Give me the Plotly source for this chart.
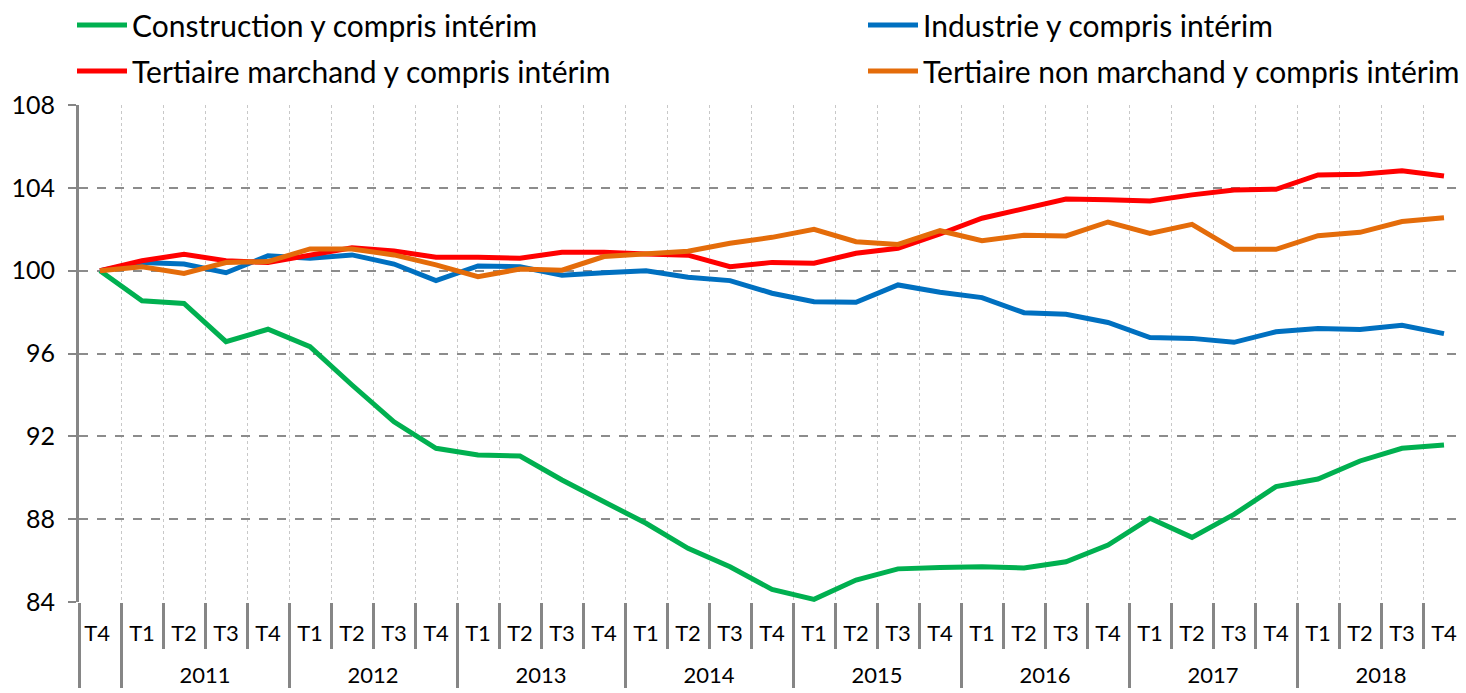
import plotly.graph_objects as go

years = ["", "2011", "2011", "2011", "2011", "2012", "2012", "2012", "2012",
         "2013", "2013", "2013", "2013", "2014", "2014", "2014", "2014",
         "2015", "2015", "2015", "2015", "2016", "2016", "2016", "2016",
         "2017", "2017", "2017", "2017", "2018", "2018", "2018", "2018"]
quarters = ["T4 "] + ["T1", "T2", "T3", "T4"] * 8

construction = [100, 98.55, 98.42, 96.57, 97.17, 96.33, 94.48, 92.7, 91.42, 91.1, 91.05,
                89.89, 88.84, 87.8, 86.59, 85.7, 84.61, 84.13, 85.06, 85.6, 85.67,
                85.7, 85.64, 85.94, 86.75, 88.04, 87.12, 88.23, 89.57, 89.94, 90.81, 91.42, 91.58]
industrie = [100, 100.39, 100.32, 99.9, 100.72, 100.6, 100.76, 100.32, 99.52, 100.23, 100.19,
             99.78, 99.9, 99.99, 99.68, 99.52, 98.91, 98.5, 98.47, 99.31, 98.96,
             98.7, 97.97, 97.89, 97.5, 96.77, 96.73, 96.54, 97.05, 97.21, 97.16, 97.36, 96.96]
tert_marchand = [100, 100.48, 100.79, 100.48, 100.39, 100.72, 101.11, 100.95, 100.65, 100.65, 100.6,
                 100.89, 100.89, 100.8, 100.75, 100.19, 100.4, 100.36, 100.84, 101.08, 101.77,
                 102.53, 103.01, 103.46, 103.43, 103.37, 103.66, 103.9, 103.93, 104.62, 104.66, 104.83, 104.57]
tert_non_marchand = [100, 100.19, 99.87, 100.39, 100.44, 101.05, 101.05, 100.76, 100.28, 99.71, 100.08,
                     100.02, 100.68, 100.84, 100.94, 101.32, 101.61, 102.0, 101.4, 101.27, 101.93,
                     101.45, 101.71, 101.68, 102.35, 101.8, 102.24, 101.03, 101.03, 101.69, 101.85, 102.37, 102.55]

series = [
    ("Construction y compris intérim", construction, "#00B050", "legend"),
    ("Industrie y compris intérim", industrie, "#0070C0", "legend2"),
    ("Tertiaire marchand y compris intérim", tert_marchand, "#FF0000", "legend3"),
    ("Tertiaire non marchand y compris intérim", tert_non_marchand, "#E46C0A", "legend4"),
]

# year labels sit one line lower than the quarter labels
year_labels = [("<br>" + y) if y else y for y in years]

FONT = "Lato"
GRAY = "#868686"
fig = go.Figure()
for name, vals, color, leg in series:
    fig.add_trace(go.Scatter(x=[year_labels, quarters], y=vals, name=name, mode="lines",
                             line=dict(color=color, width=5), legend=leg, showlegend=True))

# page body has an 8px default margin: figure is sized so the page matches 1466x693
W, H = 1458, 685
Y_MIN, Y_MAX, BASE = 84, 108, 100
n = len(quarters)
leg_common = dict(orientation="h", xref="container", yref="container", xanchor="left", yanchor="middle",
                  font=dict(family=FONT, size=30, color="#000000"),
                  bgcolor="rgba(0,0,0,0)", itemwidth=50)
fig.update_layout(
    width=W, height=H,
    showlegend=True,
    margin=dict(l=71, r=1, t=97, b=91, autoexpand=False),
    paper_bgcolor="white", plot_bgcolor="white",
    font=dict(family=FONT, color="#000000"),
    legend=dict(x=64 / W, y=1 - 17 / H, **leg_common),
    legend2=dict(x=855 / W, y=1 - 17 / H, **leg_common),
    legend3=dict(x=64 / W, y=1 - 63 / H, **leg_common),
    legend4=dict(x=855 / W, y=1 - 63 / H, **leg_common),
    xaxis=dict(type="multicategory", range=[-0.5, n - 0.5], showgrid=True, gridcolor="#c8c8c8",
               griddash="dot", gridwidth=1,
               ticks="outside", tickson="boundaries", ticklen=46, tickwidth=3, tickcolor=GRAY,
               showdividers=True, dividercolor=GRAY, dividerwidth=3, ticklabelstandoff=16,
               tickangle=0,
               tickfont=dict(family=FONT, size=22, color="#000000"),
               showline=False, zeroline=False),
    # the horizontal axis line crossing at 100, with its small tick marks
    xaxis2=dict(overlaying="x", anchor="free", position=(BASE - Y_MIN) / (Y_MAX - Y_MIN),
                range=[-0.5, n - 0.5], tickvals=[i + 0.5 for i in range(-1, n)],
                ticks="inside", ticklen=6, tickwidth=3, tickcolor=GRAY,
                showline=True, linecolor=GRAY, linewidth=3, showticklabels=False,
                showgrid=False, zeroline=False),
    yaxis=dict(range=[Y_MIN, Y_MAX], dtick=4, tick0=Y_MIN, showgrid=True, gridcolor="#8c8c8c",
               griddash="dash", gridwidth=2, showline=True, linecolor=GRAY, linewidth=3,
               ticks="outside", ticklen=8, tickwidth=2, tickcolor=GRAY, ticklabelstandoff=8,
               tickfont=dict(family=FONT, size=25, color="#000000"), zeroline=False),
)
fig.write_html("out.html")
